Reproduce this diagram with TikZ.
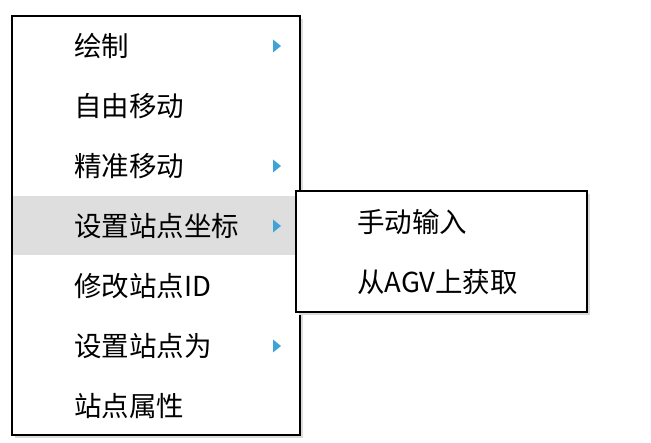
\documentclass[tikz,border=0pt]{standalone}
\usepackage{fontspec}
\setmainfont{Noto Sans CJK SC}
\usetikzlibrary{calc}
\definecolor{hl}{HTML}{DEDEDE}
\definecolor{arr}{HTML}{3FA3D8}
\begin{document}
\begin{tikzpicture}[x=1pt,y=1pt,
  menubox/.style={draw=black,line width=1.6pt,fill=white},
  shade/.style={fill=black!14},
  item/.style={anchor=west,inner sep=0pt,font=\fontsize{27.5}{27.5}\selectfont},
  tri/.style={fill=arr}]
\useasboundingbox (0,0) rectangle (651,443);
% main menu
\fill[shade] (15,5) rectangle (303,424);
\draw[menubox] (12,8) rectangle (300,427);
\fill[hl] (13,188) rectangle (296,247);
% items
\node[item] (i1) at (74,397) {绘制};
\node[item] (i2) at (74,337) {自由移动};
\node[item] (i3) at (74,277) {精准移动};
\node[item] (i4) at (74,217) {设置站点坐标};
\node[item] (i5) at (74,157) {修改站点ID};
\node[item] (i6) at (74,97) {设置站点为};
\node[item] (i7) at (74,37) {站点属性};
\foreach \yy in {397,277,217,97}{
  \fill[tri] (273,\yy+6.5) -- (281,\yy) -- (273,\yy-6.5) -- cycle;
}
% submenu
\fill[shade] (299,128) rectangle (590,249);
\draw[menubox] (296,131) rectangle (587,252);
\node[item] (s1) at (357,221) {手动输入};
\node[item] (s2) at (357,161) {从AGV上获取};
\end{tikzpicture}
\end{document}
